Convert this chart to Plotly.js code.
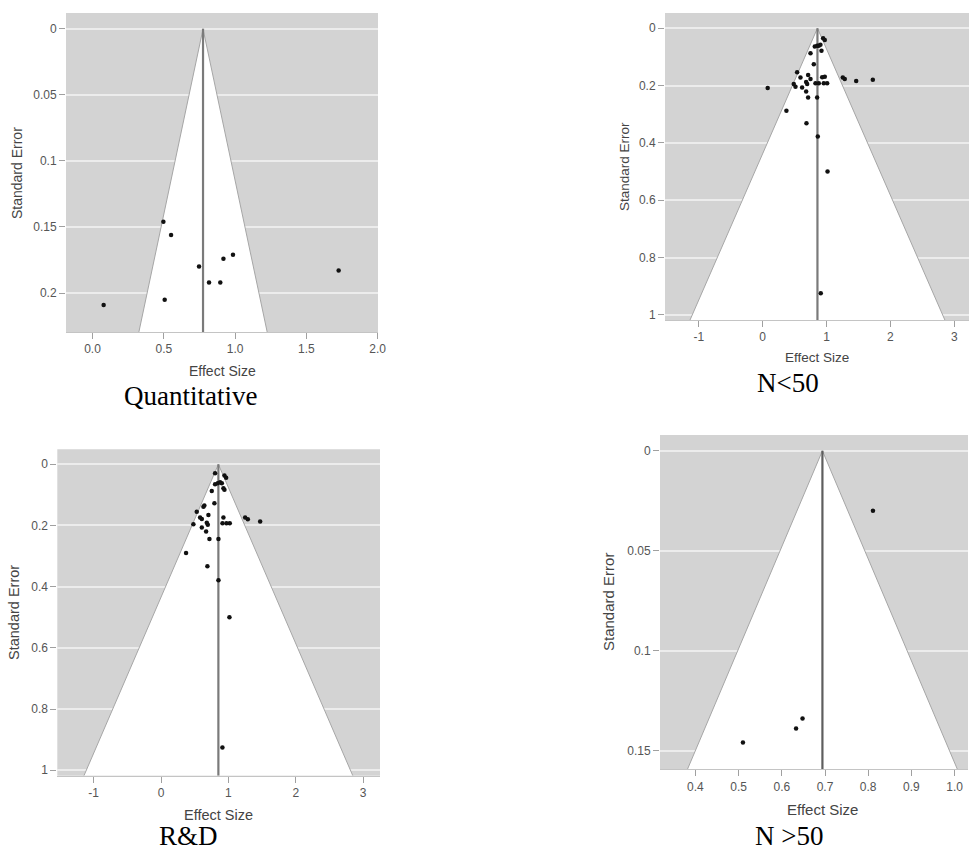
<!DOCTYPE html>
<html>
<head>
<meta charset="utf-8">
<script src="https://cdn.plot.ly/plotly-3.0.1.min.js"></script>
<style>html,body{margin:0;padding:0;background:#fff;}#chart{width:971px;height:853px;}</style>
</head>
<body>
<div id="chart"></div>
<script>
// ---- Data ----
// Panel: Quantitative
const quantES = [0.497, 0.551, 0.918, 0.985, 0.747, 0.817, 0.896, 0.506, 0.078, 1.726];
const quantSE = [0.146, 0.156, 0.174, 0.171, 0.180, 0.192, 0.192, 0.205, 0.209, 0.183];
const quantMean = 0.775;

// Panel: N<50
const smallES = [0.946, 0.972, 0.815, 0.852, 0.878, 0.904, 0.920, 0.748, 0.800, 0.539,
                 0.591, 0.711, 0.748, 0.931, 0.972, 1.254, 1.285, 1.464, 1.724, 0.486,
                 0.513, 0.680, 0.696, 0.826, 0.878, 0.956, 1.009, 0.617, 0.680, 0.711,
                 0.852, 0.078, 0.371, 0.685, 0.862, 1.015, 0.909];
const smallSE = [0.035, 0.041, 0.064, 0.061, 0.061, 0.058, 0.079, 0.087, 0.126, 0.154,
                 0.172, 0.163, 0.177, 0.171, 0.169, 0.172, 0.177, 0.184, 0.180, 0.195,
                 0.204, 0.188, 0.195, 0.192, 0.192, 0.192, 0.192, 0.207, 0.221, 0.242,
                 0.242, 0.209, 0.288, 0.332, 0.378, 0.500, 0.925];
const smallMean = 0.857;

// Panel: R&D
const rdES = [0.802, 0.941, 0.966, 0.802, 0.842, 0.877, 0.902, 0.926, 0.941, 0.753,
              0.792, 0.629, 0.643, 0.530, 0.703, 0.579, 0.605, 0.926, 1.248, 1.288,
              1.471, 0.480, 0.679, 0.694, 0.912, 0.971, 1.020, 0.605, 0.669, 0.718,
              0.852, 0.371, 0.688, 0.852, 1.015, 0.911];
const rdSE = [0.029, 0.037, 0.044, 0.065, 0.062, 0.059, 0.062, 0.078, 0.083, 0.087,
              0.127, 0.139, 0.135, 0.155, 0.166, 0.174, 0.179, 0.174, 0.174, 0.180,
              0.187, 0.196, 0.191, 0.198, 0.193, 0.193, 0.193, 0.207, 0.220, 0.244,
              0.244, 0.290, 0.333, 0.379, 0.500, 0.926];
const rdMean = 0.851;

// Panel: N >50
const largeES = [0.811, 0.648, 0.633, 0.510];
const largeSE = [0.030, 0.134, 0.139, 0.146];
const largeMean = 0.694;

// Tick labels
const quantXTicks = [0, 0.5, 1, 1.5, 2];
const quantXText = ['0.0', '0.5', '1.0', '1.5', '2.0'];
const quantYTicks = [0, 0.05, 0.1, 0.15, 0.2];
const quantYText = ['0', '0.05', '0.1', '0.15', '0.2'];
const wideXTicks = [-1, 0, 1, 2, 3];
const wideXText = ['-1', '0', '1', '2', '3'];
const wideYTicks = [0, 0.2, 0.4, 0.6, 0.8, 1];
const wideYText = ['0', '0.2', '0.4', '0.6', '0.8', '1'];
const largeXTicks = [0.4, 0.5, 0.6, 0.7, 0.8, 0.9, 1.0];
const largeXText = ['0.4', '0.5', '0.6', '0.7', '0.8', '0.9', '1.0'];
const largeYTicks = [0, 0.05, 0.1, 0.15];
const largeYText = ['0', '0.05', '0.1', '0.15'];

const captions = ['Quantitative', 'N<50', 'R&D', 'N >50'];

// ---- Layout geometry (pixels in a 971x853 page) ----
const W = 971, H = 853;
const panels = [
  {es: quantES, se: quantSE, mean: quantMean, xr: [-0.186, 2.002], yr: [0.2295, -0.012],
   px: [66, 378], py: [13, 332], xt: quantXTicks, xtt: quantXText, yt: quantYTicks, ytt: quantYText,
   xTitle: [222, 371], yTitle: [17, 173], cap: [190, 396], titleSize: 14, meanCol: '#7a7a7a'},
  {es: smallES, se: smallSE, mean: smallMean, xr: [-1.53, 3.23], yr: [1.018, -0.053],
   px: [665, 969], py: [13, 320], xt: wideXTicks, xtt: wideXText, yt: wideYTicks, ytt: wideYText,
   xTitle: [817, 357], yTitle: [625, 167], cap: [788, 383], titleSize: 13.5, meanCol: '#7a7a7a'},
  {es: rdES, se: rdSE, mean: rdMean, xr: [-1.54, 3.25], yr: [1.018, -0.049],
   px: [57.3, 380], py: [449.3, 775.7], xt: wideXTicks, xtt: wideXText, yt: wideYTicks, ytt: wideYText,
   xTitle: [218, 815], yTitle: [14, 613], cap: [188, 836], titleSize: 14.5, meanCol: '#7a7a7a'},
  {es: largeES, se: largeSE, mean: largeMean, xr: [0.318, 1.031], yr: [0.1594, -0.0079],
   px: [660, 968], py: [435, 769.3], xt: largeXTicks, xtt: largeXText, yt: largeYTicks, ytt: largeYText,
   xTitle: [822, 809], yTitle: [608, 602], cap: [789, 836], titleSize: 15, meanCol: '#5e5e5e'}
];

const traces = [];
const layout = {
  width: W, height: H,
  margin: {l: 0, r: 0, t: 0, b: 0},
  paper_bgcolor: '#ffffff',
  plot_bgcolor: 'rgba(0,0,0,0)',
  showlegend: false,
  annotations: [],
  shapes: [],
  font: {family: 'Liberation Sans, Arial, sans-serif', color: '#444'}
};

panels.forEach((p, i) => {
  const n = i === 0 ? '' : String(i + 1);
  const xa = 'x' + n, ya = 'y' + n;
  const seB = p.yr[0];
  // funnel (white pseudo-confidence region)
  traces.push({
    type: 'scatter', mode: 'lines', xaxis: xa, yaxis: ya,
    x: [p.mean - 1.96 * seB, p.mean, p.mean + 1.96 * seB],
    y: [seB, 0, seB],
    fill: 'toself', fillcolor: '#ffffff',
    line: {color: '#a6a6a6', width: 1}, hoverinfo: 'skip'
  });
  // mean effect line
  traces.push({
    type: 'scatter', mode: 'lines', xaxis: xa, yaxis: ya,
    x: [p.mean, p.mean], y: [0, seB],
    line: {color: p.meanCol, width: 2.2}, hoverinfo: 'skip'
  });
  // studies
  traces.push({
    type: 'scatter', mode: 'markers', xaxis: xa, yaxis: ya,
    x: p.es, y: p.se,
    marker: {color: '#111111', size: 4.5}
  });

  layout['xaxis' + n] = {
    domain: [p.px[0] / W, p.px[1] / W], anchor: ya,
    range: p.xr, tickmode: 'array', tickvals: p.xt, ticktext: p.xtt,
    showgrid: false, zeroline: false,
    showline: true, linecolor: '#c4c4c4', linewidth: 1,
    ticks: 'outside', ticklen: 6, tickcolor: '#a0a0a0', tickwidth: 1,
    tickfont: {size: 12, color: '#555', family: 'Liberation Sans, Arial, sans-serif'},
    fixedrange: true
  };
  layout['yaxis' + n] = {
    domain: [1 - p.py[1] / H, 1 - p.py[0] / H], anchor: xa,
    range: p.yr, tickmode: 'array', tickvals: p.yt, ticktext: p.ytt,
    showgrid: true, gridcolor: '#ececec', gridwidth: 2,
    zeroline: false, showline: false,
    ticks: 'outside', ticklen: 6, tickcolor: '#a0a0a0', tickwidth: 1,
    tickfont: {size: 12, color: '#555', family: 'Liberation Sans, Arial, sans-serif'},
    fixedrange: true
  };
  // plot background per panel
  layout.shapes.push({
    type: 'rect', xref: 'paper', yref: 'paper', layer: 'below',
    x0: p.px[0] / W, x1: p.px[1] / W, y0: 1 - p.py[1] / H, y1: 1 - p.py[0] / H,
    fillcolor: '#d3d3d3', line: {width: 0}
  });
  layout.annotations.push({
    text: 'Effect Size', xref: 'paper', yref: 'paper',
    x: p.xTitle[0] / W, y: 1 - p.xTitle[1] / H, xanchor: 'center', yanchor: 'middle',
    showarrow: false, font: {size: p.titleSize, color: '#444', family: 'Liberation Sans, Arial, sans-serif'}
  });
  layout.annotations.push({
    text: 'Standard Error', xref: 'paper', yref: 'paper', textangle: -90,
    x: p.yTitle[0] / W, y: 1 - p.yTitle[1] / H, xanchor: 'center', yanchor: 'middle',
    showarrow: false, font: {size: p.titleSize, color: '#444', family: 'Liberation Sans, Arial, sans-serif'}
  });
  layout.annotations.push({
    text: captions[i].replace('&', '&amp;').replace('<', '&lt;').replace('>', '&gt;'),
    xref: 'paper', yref: 'paper',
    x: p.cap[0] / W, y: 1 - p.cap[1] / H, xanchor: 'center', yanchor: 'middle',
    showarrow: false, font: {size: 27, color: '#000', family: 'Liberation Serif, Times New Roman, serif'}
  });
});

Plotly.newPlot('chart', traces, layout, {displayModeBar: false, staticPlot: true});
</script>
</body>
</html>
